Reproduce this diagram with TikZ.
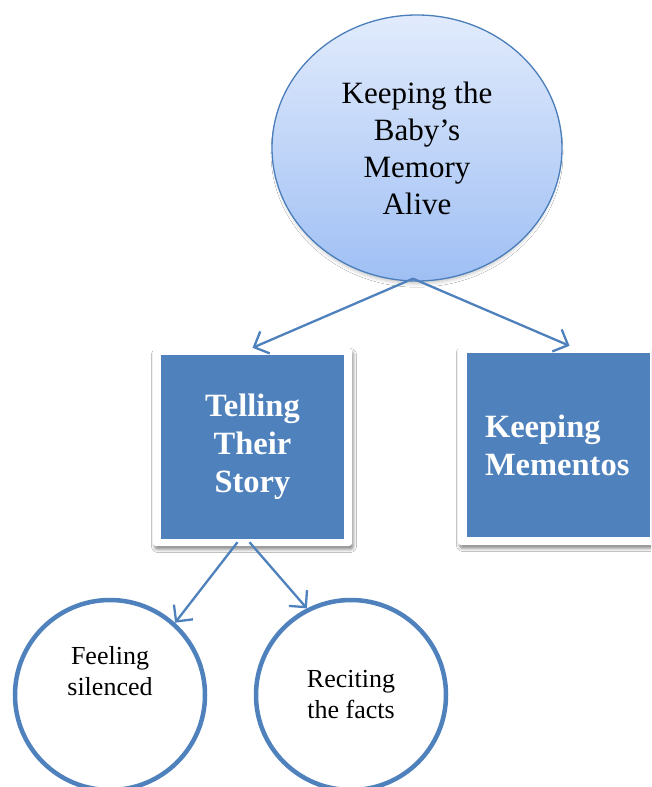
\documentclass[tikz,border=0pt]{standalone}
\usepackage{fontspec}
\setmainfont{Liberation Serif}
\usetikzlibrary{arrows.meta,shapes.geometric,shadows,shadows.blur,calc}
\definecolor{accent}{HTML}{4F81BD}
\definecolor{edgeblue}{HTML}{4A7EBB}
\definecolor{skytop}{HTML}{E1EBFC}
\definecolor{skybot}{HTML}{9FBFF4}
\begin{document}
\begin{tikzpicture}[x=1pt,y=-1pt,
  link/.style={draw=accent, line width=2.3pt, -{Straight Barb[length=12pt,width=24pt]}},
  hub/.style={ellipse, draw=edgeblue, line width=1.3pt, top color=skytop, bottom color=skybot,
    minimum width=290pt, minimum height=266pt, inner sep=0pt, align=center,
    font=\fontsize{31}{37}\selectfont,
    blur shadow={shadow xshift=0pt, shadow yshift=-5pt, shadow opacity=25, shadow blur radius=4pt, shadow scale=0.98}},
  frame/.style={rectangle, rounded corners=3pt, fill=white, minimum width=199pt, minimum height=198pt,
    inner sep=0pt,
    blur shadow={shadow xshift=1.5pt, shadow yshift=-3.5pt, shadow opacity=45, shadow blur radius=3pt}},
  panel/.style={rectangle, fill=accent, minimum width=183pt, minimum height=184pt, inner sep=0pt,
    text=white, font=\bfseries\fontsize{32.5}{38}\selectfont},
  leaf/.style={circle, draw=accent, line width=4.5pt, fill=white, minimum size=190pt, inner sep=0pt},
  leaftext/.style={align=center, font=\fontsize{26}{31}\selectfont}
]
\useasboundingbox (0,0) rectangle (651,787);
\clip (0,0) rectangle (651,787);
\fill[white] (0,0) rectangle (651,787);

% central theme
\node[hub] (hub) at (417,148) {Keeping the\\Baby’s\\Memory\\Alive};

% second level: two framed panels
\node[frame] (f1) at (252.5,447) {};
\node[panel, align=center] (p1) at (252.5,447) {Telling\\Their\\Story};
\node[frame, minimum height=199pt] (f2) at (557.5,445.5) {};
\node[panel, align=left, text width=146pt] (p2) at (558,445) {Keeping\\Mementos};

% third level: sub-themes of the first panel
\node[leaf] (c1) at (110,695) {};
\node[leaftext] (c1txt) at (110,671) {Feeling\\silenced};
\node[leaf, leaftext] (c2) at (351,695) {Reciting\\the facts};

% connectors
\draw[link] ([xshift=-4pt,yshift=3pt]hub.south) -- (f1.north);
\draw[link] ([xshift=-4pt,yshift=3pt]hub.south) -- ([xshift=12pt]f2.north);
\draw[link] ([xshift=-15pt,yshift=4pt]f1.south) -- (c1.48);
\draw[link] ([xshift=-3pt,yshift=4pt]f1.south) -- (c2.117);
\end{tikzpicture}
\end{document}
